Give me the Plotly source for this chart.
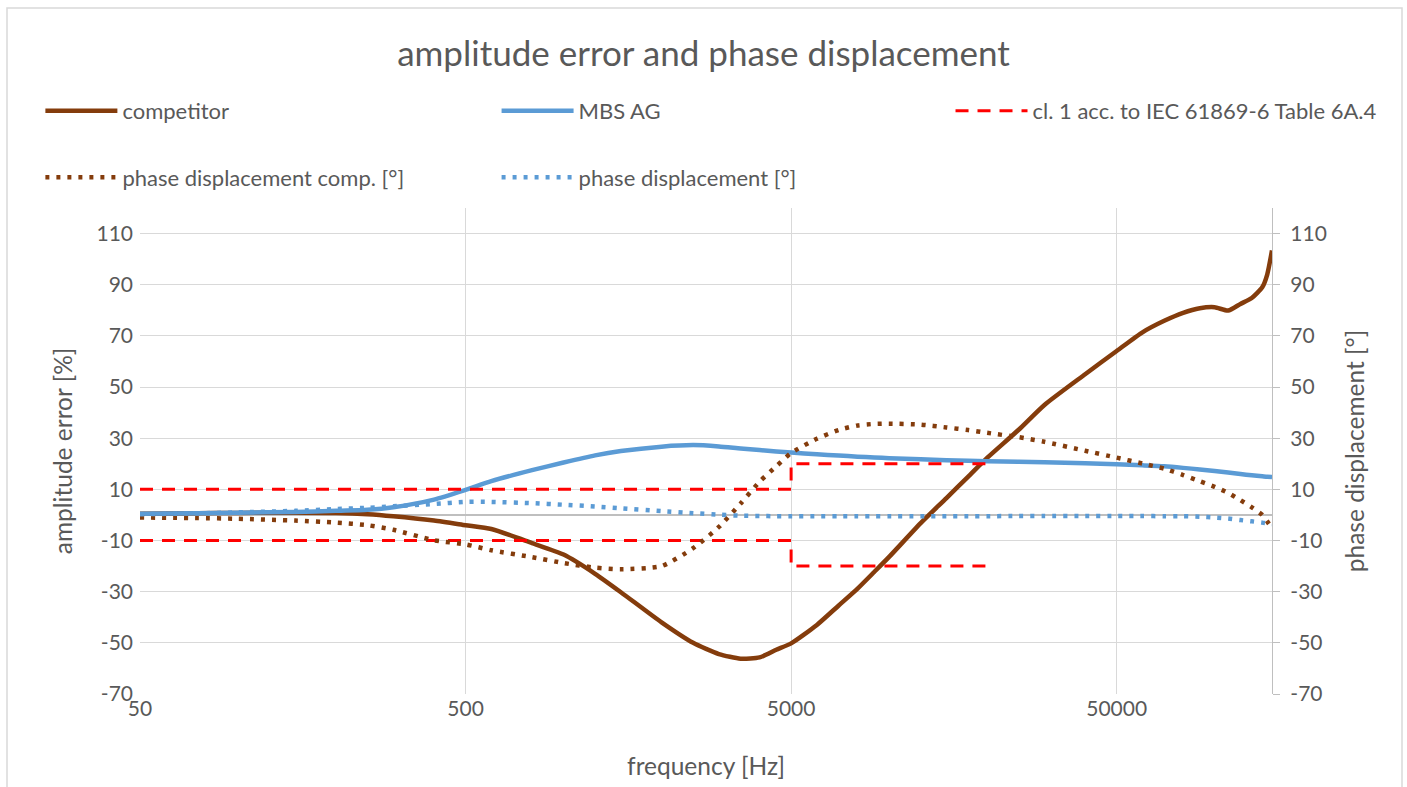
import plotly.graph_objects as go

# frequencies [Hz]
freq = [50, 75, 100, 150, 200, 250, 300, 400, 500, 600, 800, 1000, 1250, 1500,
        2000, 2500, 3000, 3500, 4000, 4500, 5000, 6000, 7000, 8000, 9000, 10000,
        12500, 15000, 17500, 20000, 25000, 30000, 40000, 50000, 60000, 70000,
        80000, 90000, 100000, 110000, 120000, 130000, 140000, 145000, 150000]

# amplitude error [%]
competitor = [0.5, 0.7, 0.8, 0.9, 0.8, 0.3, -0.5, -2.2, -4.0, -5.5, -11.0, -15.5,
              -23.0, -30.2, -42.0, -50.0, -54.4, -56.2, -55.7, -52.7, -50.2, -43.0,
              -35.4, -28.8, -22.3, -16.4, -3.2, 6.6, 15.0, 22.3, 33.3, 43.0, 55.0,
              64.1, 71.4, 75.9, 79.0, 80.8, 81.2, 79.9, 82.5, 84.8, 89.0, 94.0, 103.4]
mbs = [0.5, 0.7, 0.9, 1.2, 1.6, 2.0, 3.0, 6.0, 9.8, 13.2, 17.5, 20.5, 23.3, 25.0,
       26.7, 27.3, 26.8, 26.0, 25.4, 24.8, 24.4, 23.7, 23.2, 22.8, 22.5, 22.2,
       21.8, 21.4, 21.2, 21.0, 20.8, 20.6, 20.2, 19.8, 19.4, 19.0, 18.4, 17.8,
       17.2, 16.6, 16.0, 15.5, 15.1, 14.9, 14.8]

# phase displacement [°]
phase_comp = [-1.0, -1.2, -1.5, -2.2, -3.0, -4.0, -5.8, -9.9, -11.5, -13.8, -16.5,
              -18.8, -20.6, -21.2, -20.0, -13.0, -4.7, 4.5, 13.0, 19.0, 24.2, 29.8,
              33.2, 35.0, 35.6, 35.7, 35.3, 34.2, 33.2, 32.1, 30.4, 28.6, 25.1, 22.4,
              20.1, 18.1, 15.6, 13.2, 11.0, 8.6, 5.8, 3.0, 0.0, -2.5, -5.3]
phase_mbs = [0.3, 0.6, 1.0, 1.6, 2.3, 2.8, 3.4, 4.3, 5.1, 5.1, 4.6, 4.0, 3.3, 2.6,
             1.5, 0.7, 0.1, -0.3, -0.4, -0.5, -0.5, -0.5, -0.5, -0.5, -0.5, -0.5,
             -0.5, -0.5, -0.5, -0.5, -0.4, -0.4, -0.4, -0.4, -0.4, -0.5, -0.5, -0.7,
             -1.0, -1.4, -2.0, -2.5, -3.0, -3.3, -3.6]

# class 1 limits acc. to IEC 61869-6 Table 6A.4
limit_freq = [50, 5000, 5000, 20000]
limit_upper = [10, 10, 20, 20]
limit_lower = [-10, -10, -20, -20]

y_ticks = [-70, -50, -30, -10, 10, 30, 50, 70, 90, 110]
y_ticklabels = ["-70", "-50", "-30", "-10", "10", "30", "50", "70", "90", "110"]
x_ticks = [50, 500, 5000, 50000]
x_ticklabels = ["50", "500", "5000", "50000"]

BROWN = "#843C0C"
BLUE = "#5B9BD5"
RED = "#FF0000"
TXT = "#595959"
GRID = "#D9D9D9"
FONT = "Lato, Open Sans, sans-serif"

fig = go.Figure()
fig.add_trace(go.Scatter(x=freq, y=competitor, name="competitor", mode="lines",
                         line=dict(color=BROWN, width=4.5, shape="spline", smoothing=0.6),
                         legend="legend", legendgroup="a"))
fig.add_trace(go.Scatter(x=freq, y=phase_comp, name="phase displacement comp. [°]",
                         mode="lines", yaxis="y2",
                         line=dict(color=BROWN, width=4.5, dash="4px,7px", shape="spline", smoothing=0.6),
                         legend="legend", legendgroup="b"))
fig.add_trace(go.Scatter(x=freq, y=mbs, name="MBS AG", mode="lines",
                         line=dict(color=BLUE, width=4.5, shape="spline", smoothing=0.6),
                         legend="legend2", legendgroup="c"))
fig.add_trace(go.Scatter(x=freq, y=phase_mbs, name="phase displacement [°]",
                         mode="lines", yaxis="y2",
                         line=dict(color=BLUE, width=4.5, dash="4px,7px", shape="spline", smoothing=0.6),
                         legend="legend2", legendgroup="d"))
fig.add_trace(go.Scatter(x=limit_freq, y=limit_upper, name="cl. 1 acc. to IEC 61869-6 Table 6A.4",
                         mode="lines", line=dict(color=RED, width=3, dash="13px,9px"),
                         legend="legend3", legendgroup="e"))
fig.add_trace(go.Scatter(x=limit_freq, y=limit_lower, name="cl. 1 acc. to IEC 61869-6 Table 6A.4",
                         mode="lines", line=dict(color=RED, width=3, dash="13px,9px"),
                         showlegend=False, legend="legend3", legendgroup="e"))

legend_common = dict(font=dict(family=FONT, size=22, color=TXT), bgcolor="rgba(0,0,0,0)",
                     traceorder="grouped", tracegroupgap=35, yanchor="top",
                     xanchor="left", y=1.243, itemwidth=72)

fig.update_layout(
    width=1407, height=787,
    paper_bgcolor="white", plot_bgcolor="white",
    margin=dict(l=140, r=135, t=208, b=93),
    font=dict(family=FONT, color=TXT),
    title=dict(text="amplitude error and phase displacement", x=0.5, xanchor="center",
               y=0.932, yanchor="middle", font=dict(family=FONT, size=35, color=TXT)),
    legend=dict(x=-0.088, **legend_common),
    legend2=dict(x=0.315, **legend_common),
    legend3=dict(x=0.716, **legend_common),
    xaxis=dict(type="log", range=[1.69897, 5.176091], tickvals=x_ticks,
               ticktext=x_ticklabels, showgrid=True, gridcolor=GRID,
               gridwidth=1.3, showline=False, zeroline=False, ticks="",
               tickfont=dict(family=FONT, size=21, color=TXT),
               title=dict(text="frequency [Hz]", font=dict(family=FONT, size=24.5, color=TXT),
                          standoff=38)),
    yaxis=dict(range=[-70, 120], tickvals=y_ticks, ticktext=y_ticklabels, showgrid=True,
               gridcolor=GRID, gridwidth=1.3, zeroline=True, zerolinecolor="#BFBFBF",
               zerolinewidth=1.5, showline=False, ticks="", ticklabelstandoff=6,
               tickfont=dict(family=FONT, size=21, color=TXT),
               title=dict(text="amplitude error [%]", font=dict(family=FONT, size=24.5, color=TXT),
                          standoff=16)),
    yaxis2=dict(range=[-70, 120], tickvals=y_ticks, ticktext=y_ticklabels, overlaying="y",
                side="right", showgrid=False, zeroline=False, showline=True,
                linecolor="#BFBFBF", linewidth=1.3, ticks="outside", ticklen=7,
                tickcolor="#BFBFBF", ticklabelstandoff=6,
                tickfont=dict(family=FONT, size=21, color=TXT),
                title=dict(text="phase displacement [°]", font=dict(family=FONT, size=24.5, color=TXT),
                           standoff=20)),
    shapes=[dict(type="rect", xref="paper", yref="paper",
                 x0=(7 - 140) / 1132, x1=(1402 - 140) / 1132,
                 y0=-(800 - 694) / 486, y1=1 + (208 - 8) / 486,
                 line=dict(color="#D9D9D9", width=1.5), layer="below")],
)

fig.write_html("out.html", config={"displayModeBar": False},
               post_script="document.body.style.margin='0px';")
